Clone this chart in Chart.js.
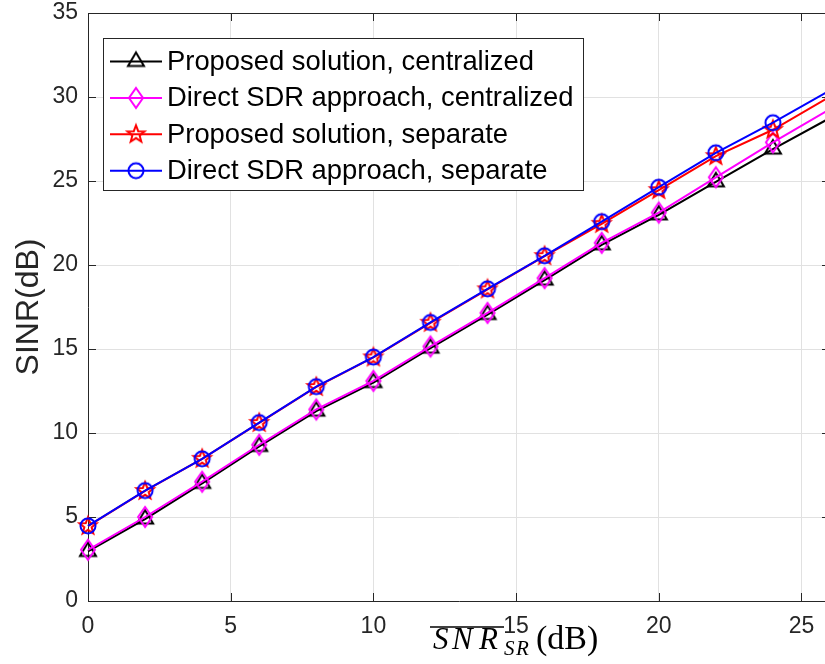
<!DOCTYPE html>
<html>
<head>
<meta charset="utf-8">
<script src="https://cdn.jsdelivr.net/npm/chart.js@4/dist/chart.umd.min.js"></script>
<style>
  html, body { margin: 0; padding: 0; overflow: hidden; background: #fff; }
  #wrap { width: 825px; height: 664px; overflow: hidden; position: relative; }
  #wrap canvas { position: absolute; left: 0; top: 0; }
</style>
</head>
<body>
<div id="wrap"><canvas id="c" width="840" height="664"></canvas></div>
<script>
// SNR grid (dB)
const snrSR = [0, 2, 4, 6, 8, 10, 12, 14, 16, 18, 20, 22, 24, 26];

// SINR (dB) for each scheme
const proposedCentralized = [2.95, 4.88, 7.0, 9.2, 11.3, 13.0, 15.05, 17.05, 19.1, 21.2, 22.98, 24.95, 26.9, 28.75];
const sdrCentralized      = [3.05, 5.0, 7.1, 9.3, 11.4, 13.1, 15.15, 17.15, 19.22, 21.32, 23.12, 25.22, 27.3, 29.28];
const proposedSeparate    = [4.46, 6.55, 8.46, 10.6, 12.74, 14.5, 16.56, 18.55, 20.53, 22.45, 24.46, 26.48, 28.05, 30.02];
const sdrSeparate         = [4.47, 6.57, 8.46, 10.62, 12.76, 14.52, 16.58, 18.58, 20.55, 22.58, 24.63, 26.68, 28.47, 30.4];

const seriesLabels = [
  'Proposed solution, centralized',
  'Direct SDR approach, centralized',
  'Proposed solution, separate',
  'Direct SDR approach, separate'
];
const seriesColors = ['#000000', '#ff00ff', '#ff0000', '#0000ff'];
const seriesMarkers = ['triangle', 'diamond', 'pentagram', 'circle'];
const seriesValues = [proposedCentralized, sdrCentralized, proposedSeparate, sdrSeparate];

const xTickStep = 5, xMin = 0, xMax = 26;
const yTickStep = 5, yMin = 0, yMax = 35;

const AXIS = '#262626';
const GRID = '#e1e1e1';
const SANS = '"Liberation Sans", Arial, sans-serif';
const SERIF = '"Liberation Serif", "Times New Roman", serif';

// Hollow marker glyphs
function markerCanvas(kind, color) {
  const s = 26, c = document.createElement('canvas');
  c.width = s; c.height = s;
  const g = c.getContext('2d');
  const m = s / 2;
  g.strokeStyle = color;
  g.lineWidth = 2;
  g.lineJoin = 'miter';
  g.beginPath();
  if (kind === 'triangle') {
    g.moveTo(m, m - 9); g.lineTo(m + 8, m + 4.5); g.lineTo(m - 8, m + 4.5); g.closePath();
  } else if (kind === 'diamond') {
    g.moveTo(m, m - 10); g.lineTo(m + 7, m); g.lineTo(m, m + 10); g.lineTo(m - 7, m); g.closePath();
  } else if (kind === 'pentagram') {
    for (let k = 0; k < 10; k++) {
      const r = k % 2 ? 3.8 : 9;
      const a = -Math.PI / 2 + k * Math.PI / 5;
      const px = m + r * Math.cos(a), py = m + r * Math.sin(a);
      if (k) g.lineTo(px, py); else g.moveTo(px, py);
    }
    g.closePath();
  } else {
    g.arc(m, m, 7.5, 0, Math.PI * 2);
  }
  g.stroke();
  return c;
}

const markerImages = seriesMarkers.map((k, i) => markerCanvas(k, seriesColors[i]));

const datasets = seriesValues.map((vals, i) => ({
  label: seriesLabels[i],
  data: snrSR.map((x, j) => ({ x: x, y: vals[j] })),
  borderColor: seriesColors[i],
  backgroundColor: seriesColors[i],
  borderWidth: 2,
  pointStyle: markerImages[i],
  // samples sitting on the right spine carry no marker
  pointRadius: c => (c.raw && c.raw.x >= xMax ? 0 : 8),
  tension: 0,
  order: seriesValues.length - i,
  clip: { left: 14, top: 14, bottom: 14, right: 0 }
}));

// Box outline, inward ticks on all sides
const frame = {
  id: 'frame',
  beforeDatasetsDraw(chart) {
    const { ctx, chartArea: a, scales: { x, y } } = chart;
    ctx.save();
    ctx.strokeStyle = AXIS;
    ctx.lineWidth = 1;
    ctx.beginPath();
    ctx.moveTo(a.left, Math.round(a.top) + 0.5);
    ctx.lineTo(a.right, Math.round(a.top) + 0.5);
    ctx.moveTo(Math.round(a.right) + 0.5, a.top);
    ctx.lineTo(Math.round(a.right) + 0.5, a.bottom);
    const tl = 8;
    x.ticks.forEach(t => {
      const px = Math.round(x.getPixelForValue(t.value)) + 0.5;
      ctx.moveTo(px, a.bottom); ctx.lineTo(px, a.bottom - tl);
      ctx.moveTo(px, a.top); ctx.lineTo(px, a.top + tl);
    });
    y.ticks.forEach(t => {
      const py = Math.round(y.getPixelForValue(t.value)) + 0.5;
      ctx.moveTo(a.left, py); ctx.lineTo(a.left + tl, py);
      ctx.moveTo(a.right, py); ctx.lineTo(a.right - tl, py);
    });
    ctx.stroke();
    ctx.restore();
  }
};

// Boxed legend inside the plot, upper left
const boxLegend = {
  id: 'boxLegend',
  afterDatasetsDraw(chart) {
    const { ctx } = chart;
    const bx = 103.5, by = 38.5, bw = 480, bh = 152;
    ctx.save();
    ctx.fillStyle = '#ffffff';
    ctx.fillRect(bx, by, bw, bh);
    ctx.strokeStyle = AXIS;
    ctx.lineWidth = 1;
    ctx.strokeRect(bx, by, bw, bh);
    ctx.font = '27.4px ' + SANS;
    ctx.textBaseline = 'middle';
    ctx.textAlign = 'left';
    chart.data.datasets.forEach((ds, i) => {
      const cy = 61.5 + i * 36.4;
      ctx.strokeStyle = ds.borderColor;
      ctx.lineWidth = 2;
      ctx.beginPath();
      ctx.moveTo(110, cy); ctx.lineTo(162, cy);
      ctx.stroke();
      const img = ds.pointStyle;
      ctx.drawImage(img, 136 - img.width / 2, cy - img.height / 2);
      ctx.fillStyle = '#000000';
      ctx.fillText(ds.label, 167, cy + 1);
    });
    ctx.restore();
  }
};

// x-axis title set in math style: overline SNR with subscript SR, then (dB)
const mathTitle = {
  id: 'mathTitle',
  afterDraw(chart) {
    const { ctx } = chart;
    ctx.save();
    ctx.fillStyle = '#000000';
    ctx.textBaseline = 'alphabetic';
    ctx.textAlign = 'left';
    const base = 649;
    ctx.font = 'italic 31px ' + SERIF;
    ctx.fillText('S', 433, base);
    ctx.fillText('N', 452, base);
    ctx.fillText('R', 479, base);
    ctx.font = 'italic 21px ' + SERIF;
    ctx.fillText('S', 504, base + 6);
    ctx.fillText('R', 516, base + 6);
    ctx.font = '34px ' + SERIF;
    ctx.fillText('(dB)', 536, base);
    ctx.strokeStyle = '#000000';
    ctx.lineWidth = 1.6;
    ctx.beginPath();
    ctx.moveTo(430, 627); ctx.lineTo(504, 627);
    ctx.stroke();
    ctx.restore();
  }
};

new Chart(document.getElementById('c'), {
  type: 'line',
  data: { datasets: datasets },
  options: {
    responsive: false,
    animation: false,
    devicePixelRatio: 1,
    layout: { padding: { left: 0, top: 13, right: 10, bottom: 0 } },
    plugins: { legend: { display: false }, tooltip: { enabled: false } },
    scales: {
      x: {
        type: 'linear',
        min: xMin, max: xMax,
        afterFit(s) { s.height = 63; s.paddingLeft = 0; s.paddingRight = 0; },
        grid: { color: GRID, lineWidth: 1, drawTicks: false },
        border: { display: true, color: AXIS, width: 1 },
        ticks: {
          stepSize: xTickStep,
          includeBounds: false,
          padding: 12,
          color: AXIS,
          font: { family: SANS, size: 23 },
          maxRotation: 0
        }
      },
      y: {
        type: 'linear',
        min: yMin, max: yMax,
        afterFit(s) { s.width = 88; s.paddingTop = 0; s.paddingBottom = 0; },
        grid: { color: GRID, lineWidth: 1, drawTicks: false },
        border: { display: true, color: AXIS, width: 1 },
        ticks: {
          stepSize: yTickStep,
          padding: 10,
          color: AXIS,
          font: { family: SANS, size: 23 }
        },
        title: {
          display: true,
          text: 'SINR(dB)',
          color: AXIS,
          padding: { top: 10, bottom: 0 },
          font: { family: SANS, size: 32 }
        }
      }
    }
  },
  plugins: [frame, boxLegend, mathTitle]
});
</script>
</body>
</html>
